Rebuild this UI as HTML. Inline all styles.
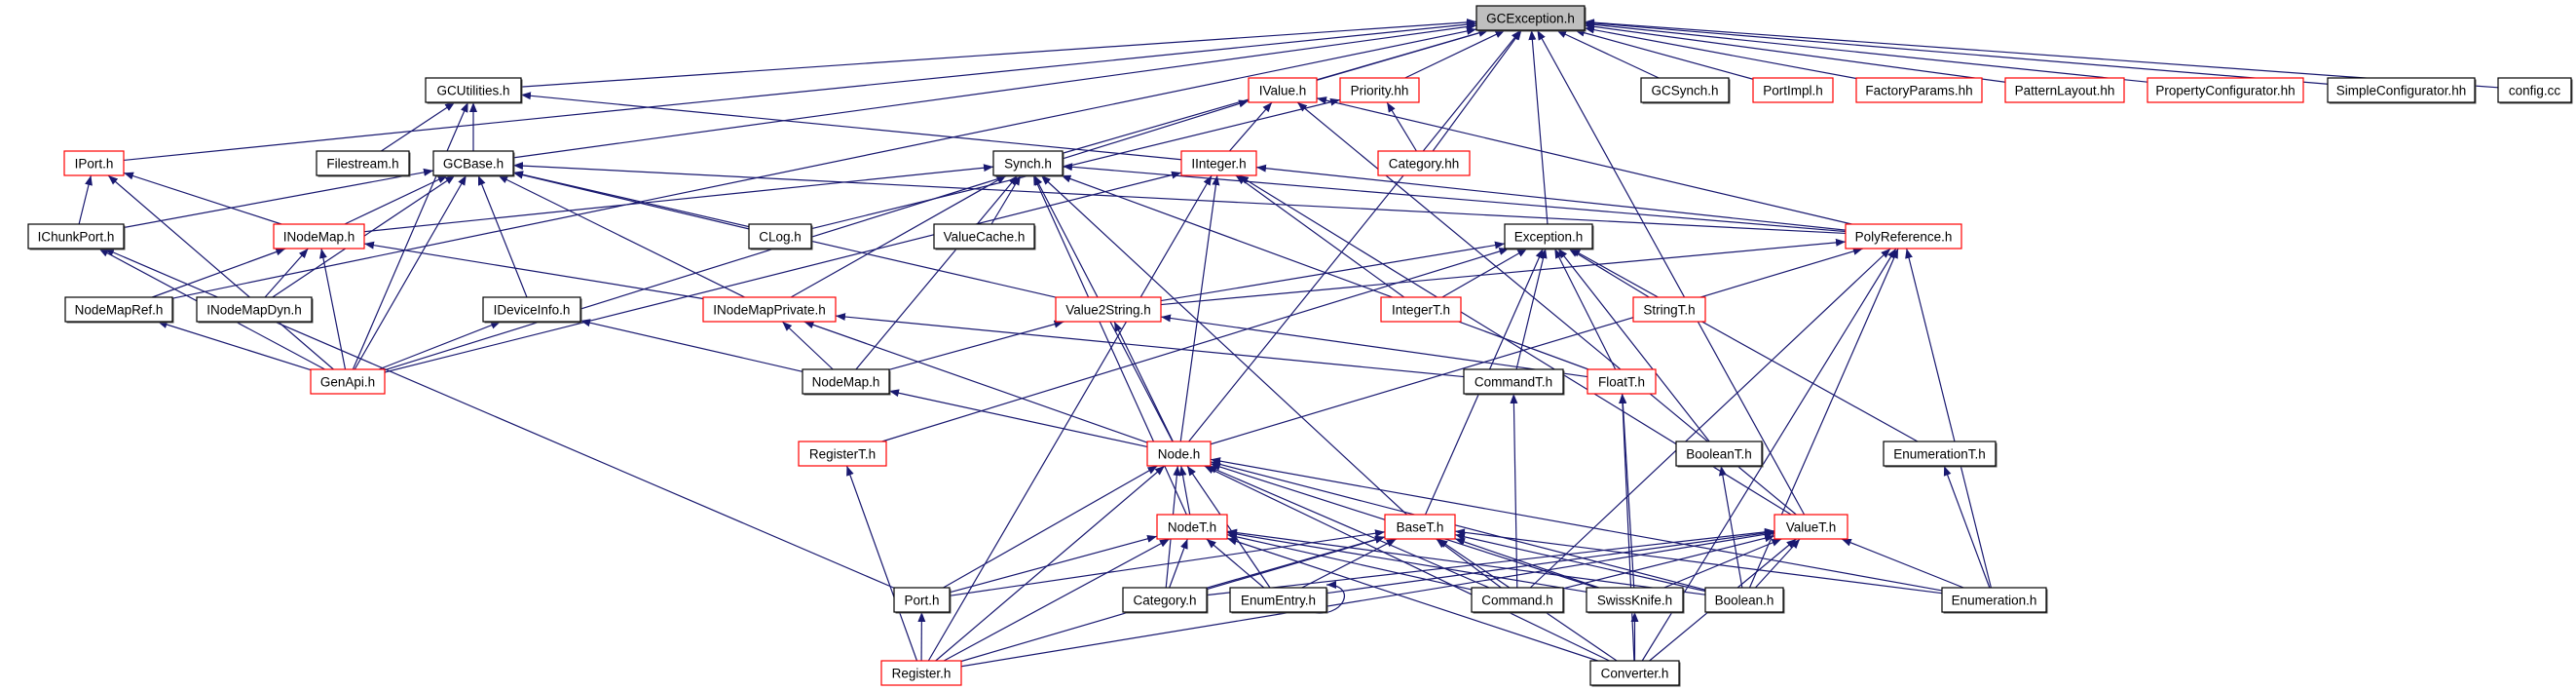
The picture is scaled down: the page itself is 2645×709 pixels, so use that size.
<!DOCTYPE html>
<html><head><meta charset="utf-8"><style>
html,body{margin:0;padding:0;background:#fff;}
svg{display:block;}
text{font-family:"Liberation Sans",sans-serif;font-size:13.5px;fill:#000;}
</style></head><body>
<svg id="g" width="2645" height="709" viewBox="0 0 2645 709" xmlns="http://www.w3.org/2000/svg">
<defs><marker id="a" viewBox="0 0 10 10" refX="10" refY="5" markerWidth="10" markerHeight="10" markerUnits="userSpaceOnUse" orient="auto"><path d="M0,1 L10,5 L0,9 z" fill="#191970"/></marker></defs>
<g id="E"></g><g id="N"></g>
</svg>
<script>
var N={
"GCException.h":[1516,1627,6,2],
"GCUtilities.h":[437,535,80,0],"IValue.h":[1282,1352,80,1],"Priority.hh":[1376,1457,80,1],
"GCSynch.h":[1685,1775,80,0],"PortImpl.h":[1800,1882,80,1],"FactoryParams.hh":[1906,2035,80,1],
"PatternLayout.hh":[2059,2181,80,1],"PropertyConfigurator.hh":[2205,2365,80,1],
"SimpleConfigurator.hh":[2390,2541,80,0],"config.cc":[2565,2640,80,0],
"IPort.h":[66,127,155,1],"Filestream.h":[325,420,155,0],"GCBase.h":[445,527,155,0],
"Synch.h":[1020,1091,155,0],"IInteger.h":[1213,1290,155,1],"Category.hh":[1415,1509,155,1],
"IChunkPort.h":[29,127,230,0],"INodeMap.h":[281,374,230,1],"CLog.h":[769,833,230,0],
"ValueCache.h":[959,1062,230,0],"Exception.h":[1545,1635,230,0],"PolyReference.h":[1895,2014,230,1],
"NodeMapRef.h":[67,177,305,0],"INodeMapDyn.h":[202,320,305,0],"IDeviceInfo.h":[496,596,305,0],
"INodeMapPrivate.h":[722,858,305,1],"Value2String.h":[1084,1192,305,1],"IntegerT.h":[1418,1500,305,1],
"StringT.h":[1677,1751,305,1],
"GenApi.h":[319,395,379,1],"NodeMap.h":[824,913,379,0],"CommandT.h":[1503,1605,379,0],"FloatT.h":[1630,1700,379,1],
"RegisterT.h":[820,910,453,1],"Node.h":[1178,1243,453,1],"BooleanT.h":[1721,1809,453,0],"EnumerationT.h":[1934,2049,453,0],
"NodeT.h":[1188,1260,528,1],"BaseT.h":[1422,1494,528,1],"ValueT.h":[1822,1897,528,1],
"Port.h":[918,975,603,0],"Category.h":[1153,1239,603,0],"EnumEntry.h":[1263,1362,603,0],"Command.h":[1511,1605,603,0],
"SwissKnife.h":[1629,1728,603,0],"Boolean.h":[1751,1831,603,0],"Enumeration.h":[1994,2101,603,0],
"Register.h":[905,987,678,1],"Converter.h":[1633,1724,678,0]};
var E={
"GCException.h":["GCUtilities.h","IPort.h","NodeMapRef.h","GCBase.h","Synch.h","IValue.h","Priority.hh","Category.hh","Exception.h","Node.h","ValueT.h","GCSynch.h","PortImpl.h","FactoryParams.hh","PatternLayout.hh","PropertyConfigurator.hh","SimpleConfigurator.hh","config.cc"],
"GCUtilities.h":["Filestream.h","GCBase.h","IInteger.h","GenApi.h"],
"IValue.h":["IInteger.h","GenApi.h","PolyReference.h","ValueT.h"],
"Priority.hh":["Category.hh","CLog.h"],
"IPort.h":["IChunkPort.h","INodeMap.h","GenApi.h"],
"GCBase.h":["IChunkPort.h","INodeMap.h","INodeMapDyn.h","GenApi.h","IDeviceInfo.h","INodeMapPrivate.h","CLog.h","Value2String.h","PolyReference.h"],
"Synch.h":["INodeMap.h","ValueCache.h","NodeMap.h","Node.h","NodeT.h","BaseT.h","INodeMapPrivate.h","FloatT.h","PolyReference.h"],
"IInteger.h":["GenApi.h","Register.h","Node.h","IntegerT.h","PolyReference.h","ValueT.h"],
"IChunkPort.h":["GenApi.h","Port.h"],
"INodeMap.h":["NodeMapRef.h","INodeMapDyn.h","GenApi.h","INodeMapPrivate.h"],
"Exception.h":["RegisterT.h","Value2String.h","IntegerT.h","StringT.h","CommandT.h","FloatT.h","BaseT.h","BooleanT.h","EnumerationT.h"],
"PolyReference.h":["Value2String.h","Node.h","Command.h","Boolean.h","Enumeration.h","Converter.h"],
"NodeMapRef.h":["GenApi.h"],"IDeviceInfo.h":["GenApi.h","NodeMap.h"],
"INodeMapPrivate.h":["NodeMap.h","Node.h","CommandT.h"],
"Value2String.h":["NodeMap.h","Node.h","FloatT.h"],
"NodeMap.h":["Node.h"],"CommandT.h":["Command.h"],"FloatT.h":["SwissKnife.h","Converter.h"],
"BooleanT.h":["Boolean.h"],"EnumerationT.h":["Enumeration.h"],"RegisterT.h":["Register.h"],
"Node.h":["NodeT.h","Port.h","Category.h","EnumEntry.h","Command.h","SwissKnife.h","Boolean.h","Enumeration.h","Register.h","Converter.h"],
"NodeT.h":["Port.h","Category.h","EnumEntry.h","Command.h","SwissKnife.h","Boolean.h","Register.h","Converter.h"],
"BaseT.h":["Port.h","Category.h","EnumEntry.h","Command.h","SwissKnife.h","Boolean.h","Enumeration.h","Register.h","Converter.h"],
"ValueT.h":["EnumEntry.h","Command.h","SwissKnife.h","Boolean.h","Enumeration.h","Register.h","Converter.h","Category.h"],
"Port.h":["Register.h"],"SwissKnife.h":["Converter.h"]};
var H=25,ns="http://www.w3.org/2000/svg",eg=document.getElementById("E"),ng=document.getElementById("N");
function c(n){var b=N[n];return [(b[0]+b[1])/2,b[2]+H/2];}
function clip(b,cx,cy,dx,dy){var hw=(b[1]-b[0])/2,hh=H/2,t=1e9;
 if(dx)t=Math.min(t,hw/Math.abs(dx)); if(dy)t=Math.min(t,hh/Math.abs(dy)); return [cx+dx*t,cy+dy*t];}
for(var t in E){E[t].forEach(function(s){
 var p=c(s),q=c(t),dx=q[0]-p[0],dy=q[1]-p[1];
 var a=clip(N[s],p[0],p[1],dx,dy),b=clip(N[t],q[0],q[1],-dx,-dy);
 var l=document.createElementNS(ns,"line");
 l.setAttribute("x1",a[0]);l.setAttribute("y1",a[1]);l.setAttribute("x2",b[0]);l.setAttribute("y2",b[1]);
 l.setAttribute("stroke","#191970");l.setAttribute("stroke-width","1.2");l.setAttribute("marker-end","url(#a)");
 eg.appendChild(l);});}
// self loop EnumEntry
var pth=document.createElementNS(ns,"path");
pth.setAttribute("d","M1345,628 C1380,636 1395,600 1362,600");pth.setAttribute("fill","none");
pth.setAttribute("stroke","#191970");pth.setAttribute("stroke-width","1.2");pth.setAttribute("marker-end","url(#a)");eg.appendChild(pth);
for(var n in N){var b=N[n];
 var sh=document.createElementNS(ns,"rect");sh.setAttribute("x",b[0]+1.5);sh.setAttribute("y",b[2]+1.5);
 sh.setAttribute("width",b[1]-b[0]);sh.setAttribute("height",H);sh.setAttribute("fill",b[3]==1?"none":"#555");ng.appendChild(sh);
 var r=document.createElementNS(ns,"rect");r.setAttribute("x",b[0]);r.setAttribute("y",b[2]);
 r.setAttribute("width",b[1]-b[0]);r.setAttribute("height",H);
 r.setAttribute("fill",b[3]==2?"#bfbfbf":"#fff");r.setAttribute("stroke",b[3]==1?"#ff0000":"#000");r.setAttribute("stroke-width","1.2");
 ng.appendChild(r);
 var tx=document.createElementNS(ns,"text");tx.setAttribute("x",(b[0]+b[1])/2);tx.setAttribute("y",b[2]+17.5);
 tx.setAttribute("text-anchor","middle");tx.textContent=n;ng.appendChild(tx);}
</script>
</body></html>
